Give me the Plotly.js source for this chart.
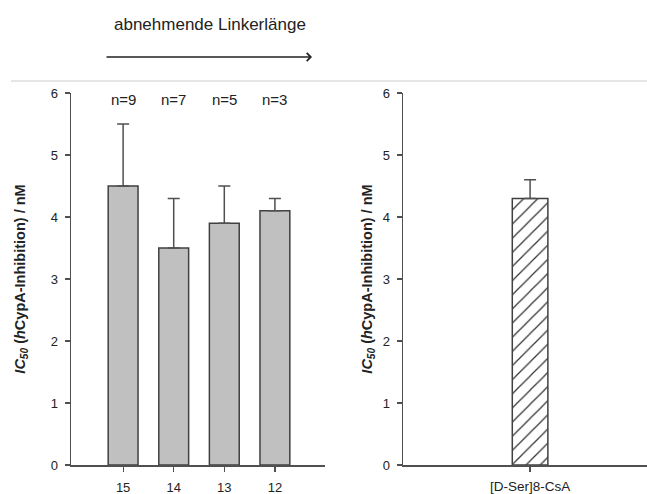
<!DOCTYPE html>
<html>
<head>
<meta charset="utf-8">
<script src="https://cdn.plot.ly/plotly-3.0.1.min.js"></script>
<style>html,body{margin:0;padding:0;background:#fff;}#chart{width:647px;height:494px;}</style>
</head>
<body>
<div id="chart"></div>
<script>
// Data
const linkerCategories = ["15", "14", "13", "12"];
const linkerValues = [4.5, 3.5, 3.9, 4.1];
const linkerErrors = [1.0, 0.8, 0.6, 0.2];
const linkerN = ["n=9", "n=7", "n=5", "n=3"];
const refCategories = ["[D-Ser]8-CsA"];
const refValues = [4.3];
const refErrors = [0.3];
const yTicks = [0, 1, 2, 3, 4, 5, 6];
const topLabel = "abnehmende Linkerlänge";
const yTitle = "<b><i>IC</i><sub><i>50</i></sub> (<i>h</i>CypA-Inhibition) / nM</b>";

const axisColor = "#505050";
const fam = "Liberation Sans, Arial, sans-serif";
const font = {family: fam, size: 13, color: "#222"};

const traces = [
  {
    type: "bar", x: linkerCategories, y: linkerValues, xaxis: "x", yaxis: "y",
    width: 0.59,
    marker: {color: "#c0c0c0", line: {color: "#404040", width: 1.5}},
    error_y: {type: "data", array: linkerErrors, arrayminus: linkerErrors.map(() => 0), symmetric: false,
              color: "#505050", thickness: 1.5, width: 6},
    hoverinfo: "none"
  },
  {
    type: "bar", x: refCategories, y: refValues, xaxis: "x2", yaxis: "y2",
    width: 0.28,
    marker: {color: "#ffffff", line: {color: "#404040", width: 1.5},
             pattern: {shape: "/", fgcolor: "#303030", bgcolor: "#ffffff", size: 10, solidity: 0.12}},
    error_y: {type: "data", array: refErrors, arrayminus: refErrors.map(() => 0), symmetric: false,
              color: "#505050", thickness: 1.5, width: 6},
    hoverinfo: "none"
  }
];

function yAxis(extra) {
  return Object.assign({
    range: [0, 6], tickvals: yTicks, ticks: "outside", ticklen: 5, tickwidth: 1.2, tickcolor: axisColor,
    showline: true, linecolor: axisColor, linewidth: 1.5, showgrid: false, zeroline: false,
    tickfont: {family: fam, size: 13, color: "#222"}, ticklabelstandoff: 4,
    domain: [0.0587, 0.8117], automargin: false, fixedrange: true
  }, extra);
}

const annotations = linkerCategories.map((c, i) => ({
  x: i, y: 5.89, xref: "x", yref: "y", text: linkerN[i], showarrow: false,
  xanchor: "center", yanchor: "middle",
  font: {family: fam, size: 15, color: "#222"}
}));
annotations.push({
  x: 210 / 647, y: 1 - 25 / 494, xref: "paper", yref: "paper", text: topLabel, showarrow: false,
  xanchor: "center", yanchor: "middle",
  font: {family: fam, size: 17, color: "#222"}
});
annotations.push({
  x: 312 / 647, y: 1 - 57 / 494, xref: "paper", yref: "paper", ax: -207, ay: 0, text: "",
  showarrow: true, arrowhead: 4, arrowsize: 1.2, arrowwidth: 1.3, arrowcolor: "#222"
});

const layout = {
  width: 647, height: 494,
  margin: {l: 0, r: 0, t: 0, b: 0},
  paper_bgcolor: "#fff", plot_bgcolor: "#fff",
  showlegend: false, font: font,
  xaxis: {
    type: "category", range: [-1.03, 3.99], domain: [71 / 647, 325 / 647],
    ticks: "outside", ticklen: 5, tickwidth: 1.2, tickcolor: axisColor,
    showline: true, linecolor: axisColor, linewidth: 1.5, showgrid: false, ticklabelstandoff: 5,
    tickfont: {family: fam, size: 13, color: "#222"}, automargin: false, fixedrange: true
  },
  yaxis: yAxis({title: {text: yTitle, font: {family: fam, size: 14.5, color: "#222"}, standoff: 21}}),
  xaxis2: {
    type: "category", range: [-1, 0.92], domain: [403 / 647, 1], anchor: "y2",
    ticks: "outside", ticklen: 5, tickwidth: 1.2, tickcolor: axisColor,
    showline: true, linecolor: axisColor, linewidth: 1.5, showgrid: false, ticklabelstandoff: 3,
    tickfont: {family: fam, size: 13.5, color: "#222"}, automargin: false, fixedrange: true
  },
  yaxis2: yAxis({anchor: "x2", title: {text: yTitle, font: {family: fam, size: 14.5, color: "#222"}, standoff: 6}}),
  annotations: annotations,
  shapes: [{type: "line", xref: "paper", yref: "paper", x0: 11 / 647, x1: 1, y0: 1 - 81 / 494, y1: 1 - 81 / 494,
            line: {color: "#dcdcdc", width: 1.5}}]
};

Plotly.newPlot("chart", traces, layout, {displayModeBar: false, staticPlot: true});
</script>
</body>
</html>
